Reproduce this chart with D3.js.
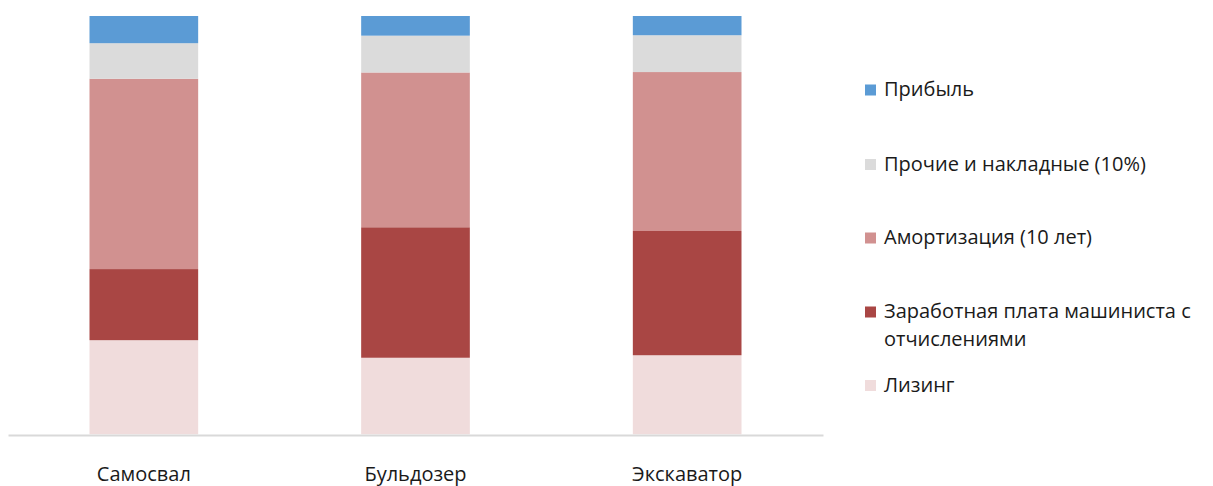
<!DOCTYPE html>
<html>
<head>
<meta charset="utf-8">
<script src="https://cdn.jsdelivr.net/npm/d3@7"></script>
<style>
  html, body { margin: 0; padding: 0; background: #fff; }
  svg { display: block; }
  text { font-family: "Open Sans", "Noto Sans", sans-serif; fill: #1a1a1a; }
</style>
</head>
<body>
<svg id="chart" width="1213" height="486"></svg>
<script>
const categories = ["Самосвал", "Бульдозер", "Экскаватор"];
const seriesNames = ["Лизинг", "Заработная плата машиниста с отчислениями", "Амортизация (10 лет)", "Прочие и накладные (10%)", "Прибыль"];
const leasing    = [22.5, 18.3, 18.9];
const salary     = [17.0, 31.2, 29.7];
const amort      = [45.5, 37.0, 38.0];
const overhead   = [8.5, 8.8, 8.8];
const profit     = [6.5, 4.7, 4.6];
const colors = ["#F0DCDC", "#A94644", "#D19190", "#DBDBDB", "#5B9BD5"];
const legendLines = [
  ["Прибыль"],
  ["Прочие и накладные (10%)"],
  ["Амортизация (10 лет)"],
  ["Заработная плата машиниста с", "отчислениями"],
  ["Лизинг"]
];

const seriesValues = [leasing, salary, amort, overhead, profit];
const rows = categories.map((c, i) => {
  const r = { cat: c };
  seriesNames.forEach((s, j) => r[s] = seriesValues[j][i]);
  return r;
});

const svg = d3.select("#chart");
const x = d3.scaleBand().domain(categories).range([8, 823]).paddingInner(0.6).paddingOuter(0.3);
const y = d3.scaleLinear().domain([0, 100]).range([434.3, 16]);

const stack = d3.stack().keys(seriesNames);
const layers = stack(rows);

svg.append("g").selectAll("g").data(layers).join("g")
  .attr("fill", (d, i) => colors[i])
  .selectAll("rect").data(d => d).join("rect")
  .attr("x", d => x(d.data.cat))
  .attr("width", x.bandwidth())
  .attr("y", d => y(d[1]))
  .attr("height", d => y(d[0]) - y(d[1]));

// axis
const axis = svg.append("g").attr("transform", "translate(0,435)")
  .call(d3.axisBottom(x).tickSize(0).tickPadding(32));
axis.select(".domain").attr("stroke", "#d9d9d9").attr("stroke-width", 2);
axis.selectAll("text").style("font-size", "20px").style("font-family", "'Open Sans', sans-serif").attr("fill", "#1a1a1a");

// legend
const legendY = [90, 164.5, 238, 312, 385.5];
const legendIdx = [4, 3, 2, 1, 0];
const lg = svg.append("g");
legendLines.forEach((lines, k) => {
  const g = lg.append("g").attr("transform", `translate(865,${legendY[k]})`);
  g.append("rect").attr("x", 0).attr("y", -5.5).attr("width", 11).attr("height", 11).attr("fill", colors[legendIdx[k]]);
  lines.forEach((t, li) => {
    g.append("text").attr("x", 19).attr("y", li * 28).attr("dy", "0.32em")
      .style("font-size", "20px").text(t);
  });
});
</script>
</body>
</html>
